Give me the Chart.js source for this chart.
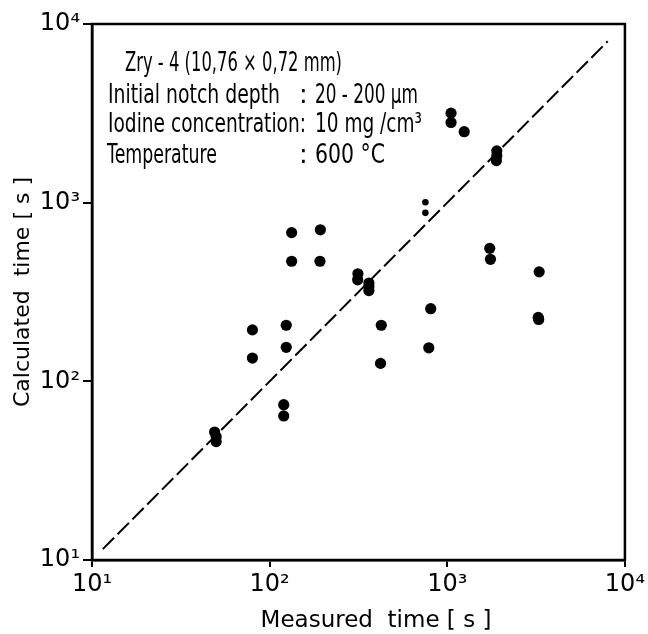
<!DOCTYPE html>
<html>
<head>
<meta charset="utf-8">
<script src="https://cdn.jsdelivr.net/npm/chart.js@4.4.0/dist/chart.umd.min.js"></script>
<style>
    html, body { margin: 0; padding: 0; background: #fff; }
</style>
</head>
<body>
<canvas id="chart" width="648" height="634"></canvas>
<script>
// measured vs calculated failure times [s]
const measured   = [49, 50, 50, 80, 80, 124, 124, 120, 120, 133, 133, 193, 192, 314, 313, 362, 362, 362,
                    425, 421, 807, 787, 1050, 1050, 1245, 1900, 1900, 1890, 1734, 1750, 3290, 3250, 3270];
const calculated = [52, 49, 46, 194, 135, 206, 155, 74, 64, 680, 470, 705, 470, 400, 370, 355, 340, 322,
                    206, 126, 255, 154, 3170, 2810, 2495, 1950, 1830, 1720, 555, 482, 410, 228, 222];
// the two small dots
const measuredSmall   = [753, 753];
const calculatedSmall = [1005, 877];
// dashed line measured = calculated
const diagonal = [11.5, 8000];

const tickValues = [10, 100, 1000, 10000];
const tickLabels = ['10¹', '10²', '10³', '10⁴'];

const noteLines = [
    ['Zry - 4 (10,76 × 0,72 mm)', ''],
    ['Initial notch depth', '20 - 200 µm'],
    ['Iodine concentration', '10 mg /cm³'],
    ['Temperature', '600 °C']
];

const FONT = '"DejaVu Sans", sans-serif';

function toPoints(xs, ys) {
    return xs.map((x, i) => ({ x: x, y: ys[i] }));
}

// condensed text, like the old drawing stencil
function narrowText(ctx, text, x, y, width) {
    ctx.fillText(text, x, y, width);
}

const textPlugin = {
    id: 'notes',
    afterDraw(chart) {
        const ctx = chart.ctx;
        const area = chart.chartArea;
        ctx.save();

        // frame on all four sides
        ctx.strokeStyle = '#000';
        ctx.lineWidth = 2.5;
        ctx.strokeRect(area.left, area.top, area.right - area.left, area.bottom - area.top);

        ctx.fillStyle = '#000';
        ctx.textBaseline = 'middle';
        ctx.textAlign = 'left';
        ctx.font = '26px ' + FONT;

        narrowText(ctx, noteLines[0][0], 125, 64, 217);
        narrowText(ctx, noteLines[1][0], 108, 96, 172);
        narrowText(ctx, ':', 299, 96);
        narrowText(ctx, noteLines[1][1], 315, 96, 103);
        narrowText(ctx, noteLines[2][0] + ':', 108, 125, 198);
        narrowText(ctx, noteLines[2][1], 315, 125, 107);
        narrowText(ctx, noteLines[3][0], 107, 156, 110);
        narrowText(ctx, ':', 299, 156);
        narrowText(ctx, noteLines[3][1], 315, 156, 70);

        // axis titles
        ctx.font = '23px ' + FONT;
        ctx.textAlign = 'center';
        ctx.fillText('Measured  time [ s ]', 376, 621);

        ctx.translate(23, 292);
        ctx.rotate(-Math.PI / 2);
        ctx.font = '22px ' + FONT;
        ctx.fillText('Calculated  time [ s ]', 0, 0);

        ctx.restore();
    }
};

function decadeTicks(axis) {
    axis.ticks = tickValues.map(v => ({ value: v }));
}

function tickLabel(value) {
    const i = tickValues.indexOf(value);
    return i >= 0 ? tickLabels[i] : '';
}

const ctx = document.getElementById('chart').getContext('2d');
new Chart(ctx, {
    type: 'scatter',
    data: {
        datasets: [
            {
                label: 'measured = calculated',
                data: toPoints(diagonal, diagonal),
                showLine: true,
                borderColor: '#000',
                borderWidth: 2,
                borderDash: [16, 5],
                pointRadius: 0
            },
            {
                label: 'tests',
                data: toPoints(measured, calculated),
                pointRadius: 5.6,
                pointBackgroundColor: '#000',
                pointBorderWidth: 0,
                showLine: false
            },
            {
                label: 'tests (small)',
                data: toPoints(measuredSmall, calculatedSmall),
                pointRadius: 3.3,
                pointBackgroundColor: '#000',
                pointBorderWidth: 0,
                showLine: false
            }
        ]
    },
    options: {
        responsive: false,
        animation: false,
        layout: { padding: { top: 24, right: 22, left: 0, bottom: 0 } },
        plugins: {
            legend: { display: false },
            tooltip: { enabled: false }
        },
        scales: {
            x: {
                type: 'logarithmic',
                min: 10,
                max: 10000,
                afterBuildTicks: decadeTicks,
                afterFit: scale => { scale.height = 74; },
                border: { display: true, color: '#000', width: 2.5 },
                grid: { drawOnChartArea: false, drawTicks: true, tickLength: 7, color: '#000', lineWidth: 2 },
                ticks: {
                    callback: tickLabel,
                    autoSkip: false,
                    maxRotation: 0,
                    padding: 3,
                    color: '#000',
                    font: { family: FONT, size: 24 }
                }
            },
            y: {
                type: 'logarithmic',
                min: 10,
                max: 10000,
                afterBuildTicks: decadeTicks,
                afterFit: scale => { scale.width = 92; },
                border: { display: true, color: '#000', width: 2.5 },
                grid: { drawOnChartArea: false, drawTicks: true, tickLength: 9, color: '#000', lineWidth: 2 },
                ticks: {
                    callback: tickLabel,
                    autoSkip: false,
                    padding: 3,
                    color: '#000',
                    font: { family: FONT, size: 24 }
                }
            }
        }
    },
    plugins: [textPlugin]
});
</script>
</body>
</html>
